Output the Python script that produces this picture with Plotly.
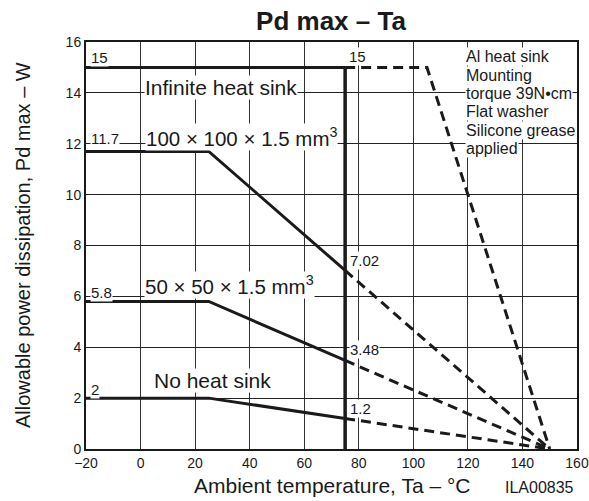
import plotly.graph_objects as go

# Data
inf_solid_x = [-20, 75]
inf_solid_y = [15, 15]
inf_dash_x = [75, 105, 150]
inf_dash_y = [15, 15, 0]

hs100_x = [-20, 25, 75]
hs100_y = [11.7, 11.7, 7.02]
hs50_x = [-20, 25, 75]
hs50_y = [5.8, 5.8, 3.48]
nohs_x = [-20, 25, 75]
nohs_y = [2, 2, 1.2]

derate_end_x = 150
derate_end_y = 0
limit_x = 75
limit_top = 15

x_ticks = [-20, 0, 20, 40, 60, 80, 100, 120, 140, 160]
x_tick_text = ["\u221220", "0", "20", "40", "60", "80", "100", "120", "140", "160"]
y_ticks = [0, 2, 4, 6, 8, 10, 12, 14, 16]

note_lines = ["Al heat sink", "Mounting", "torque 39N\u2022cm", "Flat washer",
              "Silicone grease", "applied"]

FONT = "Liberation Sans, Arial, Helvetica, sans-serif"
INK = "#1a1a1a"

W, H = 589, 501
ML, MR, MT, MB = 86, 12, 42, 52
PW, PH = W - ML - MR, H - MT - MB

fig = go.Figure()

def solid(x, y, w=3):
    fig.add_trace(go.Scatter(x=x, y=y, mode="lines", line=dict(color=INK, width=w),
                             showlegend=False, hoverinfo="skip"))

def dashed(x, y):
    fig.add_trace(go.Scatter(x=x, y=y, mode="lines",
                             line=dict(color=INK, width=3, dash="10px,6px"),
                             showlegend=False, hoverinfo="skip"))

solid(inf_solid_x, inf_solid_y)
dashed(inf_dash_x, inf_dash_y)
for xs, ys in [(hs100_x, hs100_y), (hs50_x, hs50_y), (nohs_x, nohs_y)]:
    solid(xs, ys)
    dashed([xs[-1], derate_end_x], [ys[-1], derate_end_y])
solid([limit_x, limit_x], [0, limit_top], w=3.5)

ann = []
def lab(x, y, t, size=15, xanchor="left", yanchor="middle"):
    ann.append(dict(x=x, y=y, text=t, showarrow=False, xanchor=xanchor, yanchor=yanchor,
                    font=dict(family=FONT, size=size, color=INK), bgcolor="white",
                    borderpad=0, xref="x", yref="y"))

lab(-18.5, 15.38, "15")
lab(76, 15.42, "15")
lab(-18.5, 12.2, "11.7")
lab(-18.5, 6.14, "5.8")
lab(-18.5, 2.33, "2")
lab(76.5, 7.42, "7.02")
lab(76.5, 3.93, "3.48")
lab(76.5, 1.58, "1.2")

lab(1.4, 14.2, "Infinite heat sink", size=21)
lab(1.7, 12.25, "100 \u00d7 100 \u00d7 1.5 mm<sup>3</sup>", size=20.5)
lab(1.2, 6.44, "50 \u00d7 50 \u00d7 1.5 mm<sup>3</sup>", size=20.5)
lab(4.5, 2.68, "No heat sink", size=21)

for i, t in enumerate(note_lines):
    lab(118.8, 15.42 - 0.72 * i, t, size=16)

def paper_ann(px, py, text, size, xanchor="center", angle=0):
    ann.append(dict(x=(px - ML) / PW, y=(H - MB - py) / PH, xref="paper", yref="paper",
                    xanchor=xanchor, yanchor="middle", textangle=angle,
                    text=text, showarrow=False, font=dict(family=FONT, size=size, color=INK)))

paper_ann(332, 485, "Ambient temperature, Ta \u2013 \u00b0C", 21)
paper_ann(23, 245, "Allowable power dissipation, Pd max \u2013 W", 20, angle=-90)
paper_ann(576, 487, "ILA00835", 16, xanchor="right")

fig.update_layout(
    width=W, height=H,
    margin=dict(l=ML, r=MR, t=MT, b=MB),
    paper_bgcolor="white", plot_bgcolor="white",
    title=dict(text="<b>Pd max \u2013 Ta</b>", x=331 / W, xanchor="center",
               y=1 - 21 / H, yanchor="middle",
               font=dict(family=FONT, size=26, color=INK)),
    annotations=ann,
    showlegend=False,
)

fig.update_xaxes(range=[-20, 160], tickvals=x_ticks, ticktext=x_tick_text,
                 showgrid=True, gridcolor="#333333", gridwidth=1,
                 showline=True, linecolor=INK, linewidth=1.5, mirror=True,
                 ticks="", zeroline=False, automargin=False,
                 tickfont=dict(family=FONT, size=14, color=INK))
fig.update_yaxes(range=[0, 16], tickvals=y_ticks,
                 showgrid=True, gridcolor="#222222", gridwidth=1,
                 showline=True, linecolor=INK, linewidth=2, mirror=True,
                 ticks="", zeroline=False, automargin=False,
                 tickfont=dict(family=FONT, size=14, color=INK))

fig.write_html("out.html", config={"displayModeBar": False},
               post_script="document.body.style.margin='0';")
